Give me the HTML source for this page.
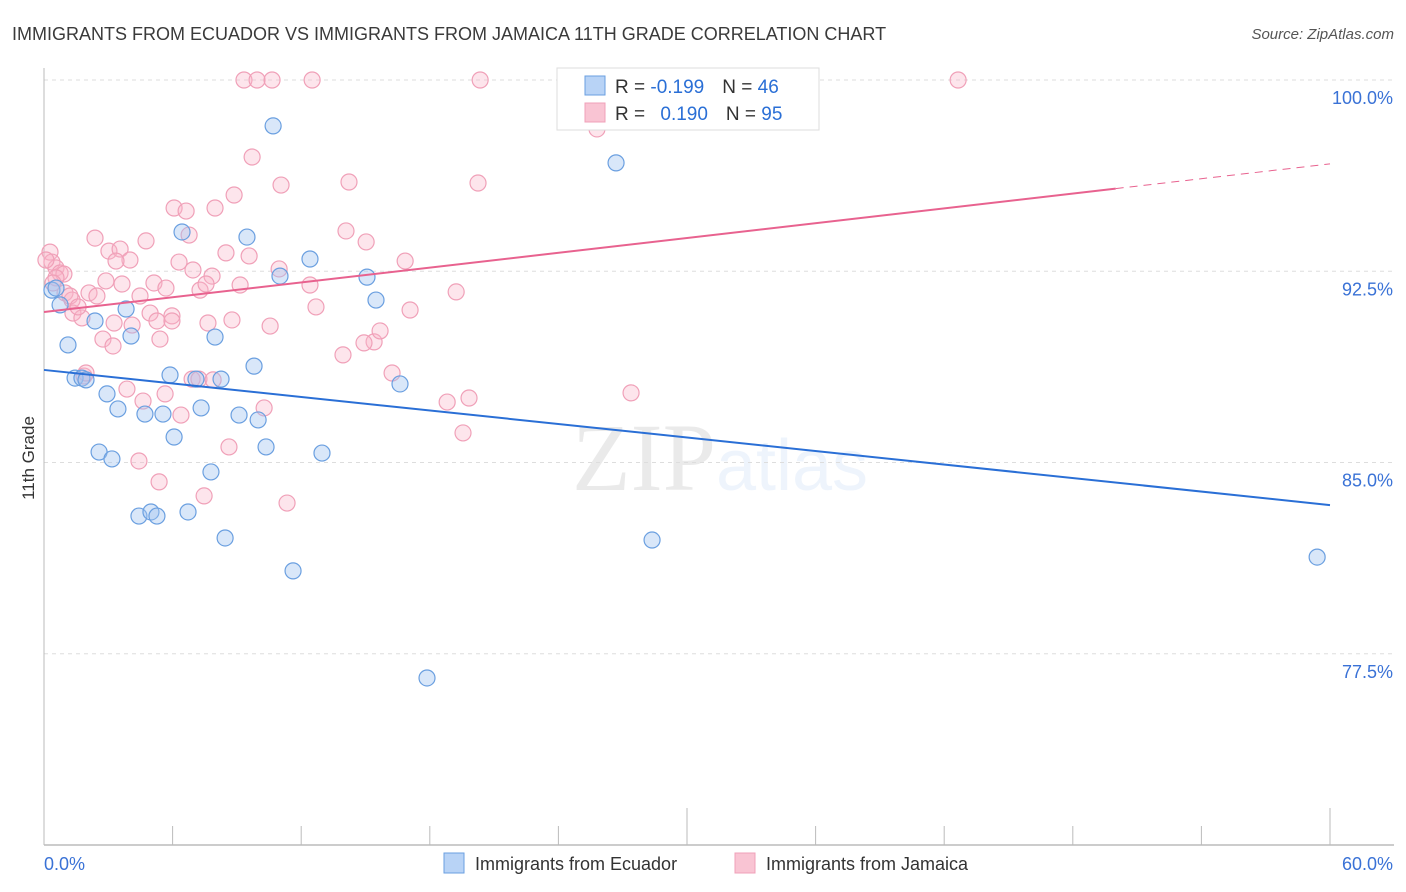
<!DOCTYPE html>
<html><head><meta charset="utf-8"><style>
body{margin:0;background:#fff;font-family:"Liberation Sans",sans-serif}
svg{display:block}
</style></head><body>
<svg id="chart" width="1406" height="892" xmlns="http://www.w3.org/2000/svg">
<text x="12" y="40" font-size="18" fill="#3a3a3a">IMMIGRANTS FROM ECUADOR VS IMMIGRANTS FROM JAMAICA 11TH GRADE CORRELATION CHART</text>
<text x="1394" y="39" font-size="15" fill="#555" text-anchor="end" font-style="italic">Source: ZipAtlas.com</text>
<text x="720" y="490" font-size="96" text-anchor="middle" fill="#000" opacity="0.08" font-family="Liberation Serif,serif">ZIP<tspan fill="#3a7de0" opacity="1.6" font-family="Liberation Sans,sans-serif" font-size="72">atlas</tspan></text>
<text transform="translate(34,458) rotate(-90)" font-size="17" fill="#333" text-anchor="middle">11th Grade</text>
<g id="grid"></g><g id="axes"></g><g id="pts"></g><g id="lines"></g>
<g>
<rect x="557" y="68" width="262" height="62" fill="#fff" stroke="#ddd"/>
<rect x="585" y="76" width="20" height="19" fill="#b8d3f6" stroke="#6a9fe0"/>
<rect x="585" y="103" width="20" height="19" fill="#f9c4d3" stroke="#f0a0b8"/>
<text x="615" y="93" font-size="19" fill="#333">R = <tspan fill="#2a6fd6">-0.199</tspan><tspan dx="18">N = </tspan><tspan fill="#2a6fd6">46</tspan></text>
<text x="615" y="120" font-size="19" fill="#333">R = <tspan fill="#2a6fd6" dx="10">0.190</tspan><tspan dx="18">N = </tspan><tspan fill="#2a6fd6">95</tspan></text>
</g>
<g>
<rect x="444" y="853" width="20" height="20" fill="#b8d3f6" stroke="#6a9fe0"/>
<text x="475" y="870" font-size="18" fill="#333">Immigrants from Ecuador</text>
<rect x="735" y="853" width="20" height="20" fill="#f9c4d3" stroke="#f0a0b8"/>
<text x="766" y="870" font-size="18" fill="#333">Immigrants from Jamaica</text>
</g>
</svg>
<script>
const yTicks=[100,92.5,85,77.5];
const yTickLabels=["100.0%","92.5%","85.0%","77.5%"];
const xLabels=["0.0%","60.0%"];
const ecuadorX=[10.69,26.69,6.44,9.47,12.41,11.01,15.07,0.37,0.56,0.75,15.49,3.83,2.38,1.12,4.06,7.98,9.80,1.45,1.77,1.96,5.88,7.09,8.26,16.61,2.94,3.45,4.71,5.55,7.33,9.10,9.99,6.07,2.57,3.17,10.36,12.97,7.79,4.43,4.99,5.27,6.72,8.45,11.62,28.37,59.40,17.87];
const ecuadorY=[98.2,96.75,94.04,93.84,92.98,92.31,92.27,91.76,91.84,91.18,91.37,91.02,90.55,89.61,89.96,89.92,88.78,88.31,88.31,88.24,88.43,88.27,88.27,88.08,87.69,87.10,86.90,86.90,87.14,86.86,86.67,86.0,85.41,85.14,85.61,85.37,84.63,82.90,83.06,82.90,83.06,82.04,80.75,81.96,81.29,76.55];
const jamaicaX=[9.33,9.94,10.64,12.51,20.35,42.65,25.80,9.71,8.87,11.06,14.23,20.25,6.07,6.63,7.98,2.38,6.77,4.76,14.09,15.03,3.03,3.55,8.49,9.57,0.28,0.37,0.56,0.75,0.93,4.01,3.36,6.30,6.95,7.84,10.97,16.85,2.89,3.64,5.13,9.15,7.28,12.41,0.98,1.31,2.10,2.47,4.48,5.69,7.56,19.23,1.35,1.77,3.27,4.11,4.95,5.27,5.97,5.97,7.65,8.77,10.55,12.69,17.08,2.75,3.22,5.41,15.40,15.68,14.93,13.95,1.87,1.96,3.87,5.65,6.91,7.23,7.89,16.24,18.81,19.83,27.39,4.62,6.39,10.27,8.63,19.55,4.43,5.37,7.47,11.34,0.56,1.21,1.59,0.09,0.42];
const jamaicaY=[100,100,100,100,100,100,98.08,96.98,95.49,95.88,96.0,95.96,94.98,94.86,94.98,93.80,93.92,93.69,94.08,93.65,93.29,93.37,93.22,93.10,93.25,92.86,92.63,92.43,92.39,92.94,92.90,92.86,92.55,92.31,92.59,92.90,92.12,92.0,92.04,91.96,91.76,91.96,91.65,91.37,91.65,91.53,91.53,91.84,92.0,91.69,90.86,90.67,90.47,90.39,90.86,90.55,90.75,90.55,90.47,90.59,90.35,91.10,90.98,89.84,89.57,89.84,89.73,90.16,89.69,89.22,88.39,88.51,87.88,87.69,88.27,88.27,88.24,88.51,87.37,87.53,87.73,87.41,86.86,87.14,85.61,86.16,85.06,84.24,83.69,83.41,92.24,91.53,91.10,92.94,92.04];
const ecuadorTrend=[88.63,83.33];
const jamaicaTrend=[90.90,96.71];
const jamaicaSolidEnd=50.0;
const NS="http://www.w3.org/2000/svg";
const X0=44,X1=1330,Y0=80,YB=845;
function sx(v){return X0+(v/60)*(X1-X0);}
function sy(v){return Y0+(100-v)/30*(YB-Y0);}
function mk(tag,attrs,parent){const e=document.createElementNS(NS,tag);for(const k in attrs)e.setAttribute(k,attrs[k]);document.getElementById(parent).appendChild(e);return e;}
yTicks.forEach((t,i)=>{
 const g=mk('line',{x1:X0,x2:1394,y1:sy(t),y2:sy(t),stroke:'#ddd','stroke-dasharray':'4,4'},'grid');
 
 
 const l=mk('text',{x:1393,y:sy(t)+24,'font-size':18,fill:'#3a72d6','text-anchor':'end'},'grid');
 l.textContent=yTickLabels[i];
 
 
});
const ax=mk('line',{x1:X0,x2:X0,y1:68,y2:YB,stroke:'#bbb'},'axes');


const bx=mk('line',{x1:X0,x2:1394,y1:YB,y2:YB,stroke:'#bbb','stroke-width':1.5},'axes');


for(let i=1;i<=10;i++){
 const big=(i===5||i===10);
 const t=mk('line',{x1:sx(i*6),x2:sx(i*6),y1:big?808:826,y2:YB,stroke:'#bbb'},'axes');
 
 
}
const xl0=mk('text',{x:44,y:870,'font-size':18,fill:'#3a72d6'},'axes');
xl0.textContent=xLabels[0];


const xl1=mk('text',{x:1393,y:870,'font-size':18,fill:'#3a72d6','text-anchor':'end'},'axes');
xl1.textContent=xLabels[1];


jamaicaX.forEach((x,i)=>{
 const c=mk('circle',{cx:sx(x),cy:sy(jamaicaY[i]),r:8,fill:'rgba(248,180,200,0.35)',stroke:'#f0a0b8','stroke-width':1.2},'pts');
 
 
});
ecuadorX.forEach((x,i)=>{
 const c=mk('circle',{cx:sx(x),cy:sy(ecuadorY[i]),r:8,fill:'rgba(160,196,240,0.4)',stroke:'#6a9fe0','stroke-width':1.2},'pts');
 
 
});
const bl=mk('line',{x1:sx(0),y1:sy(ecuadorTrend[0]),x2:sx(60),y2:sy(ecuadorTrend[1]),stroke:'#2a6fd6','stroke-width':2},'lines');


const pe=jamaicaTrend[0]+(jamaicaTrend[1]-jamaicaTrend[0])*jamaicaSolidEnd/60;
const pl=mk('line',{x1:sx(0),y1:sy(jamaicaTrend[0]),x2:sx(jamaicaSolidEnd),y2:sy(pe),stroke:'#e8628f','stroke-width':2},'lines');


const pd=mk('line',{x1:sx(jamaicaSolidEnd),y1:sy(pe),x2:sx(60),y2:sy(jamaicaTrend[1]),stroke:'#e8628f','stroke-width':1,'stroke-dasharray':'8,6'},'lines');


</script>
</body></html>
